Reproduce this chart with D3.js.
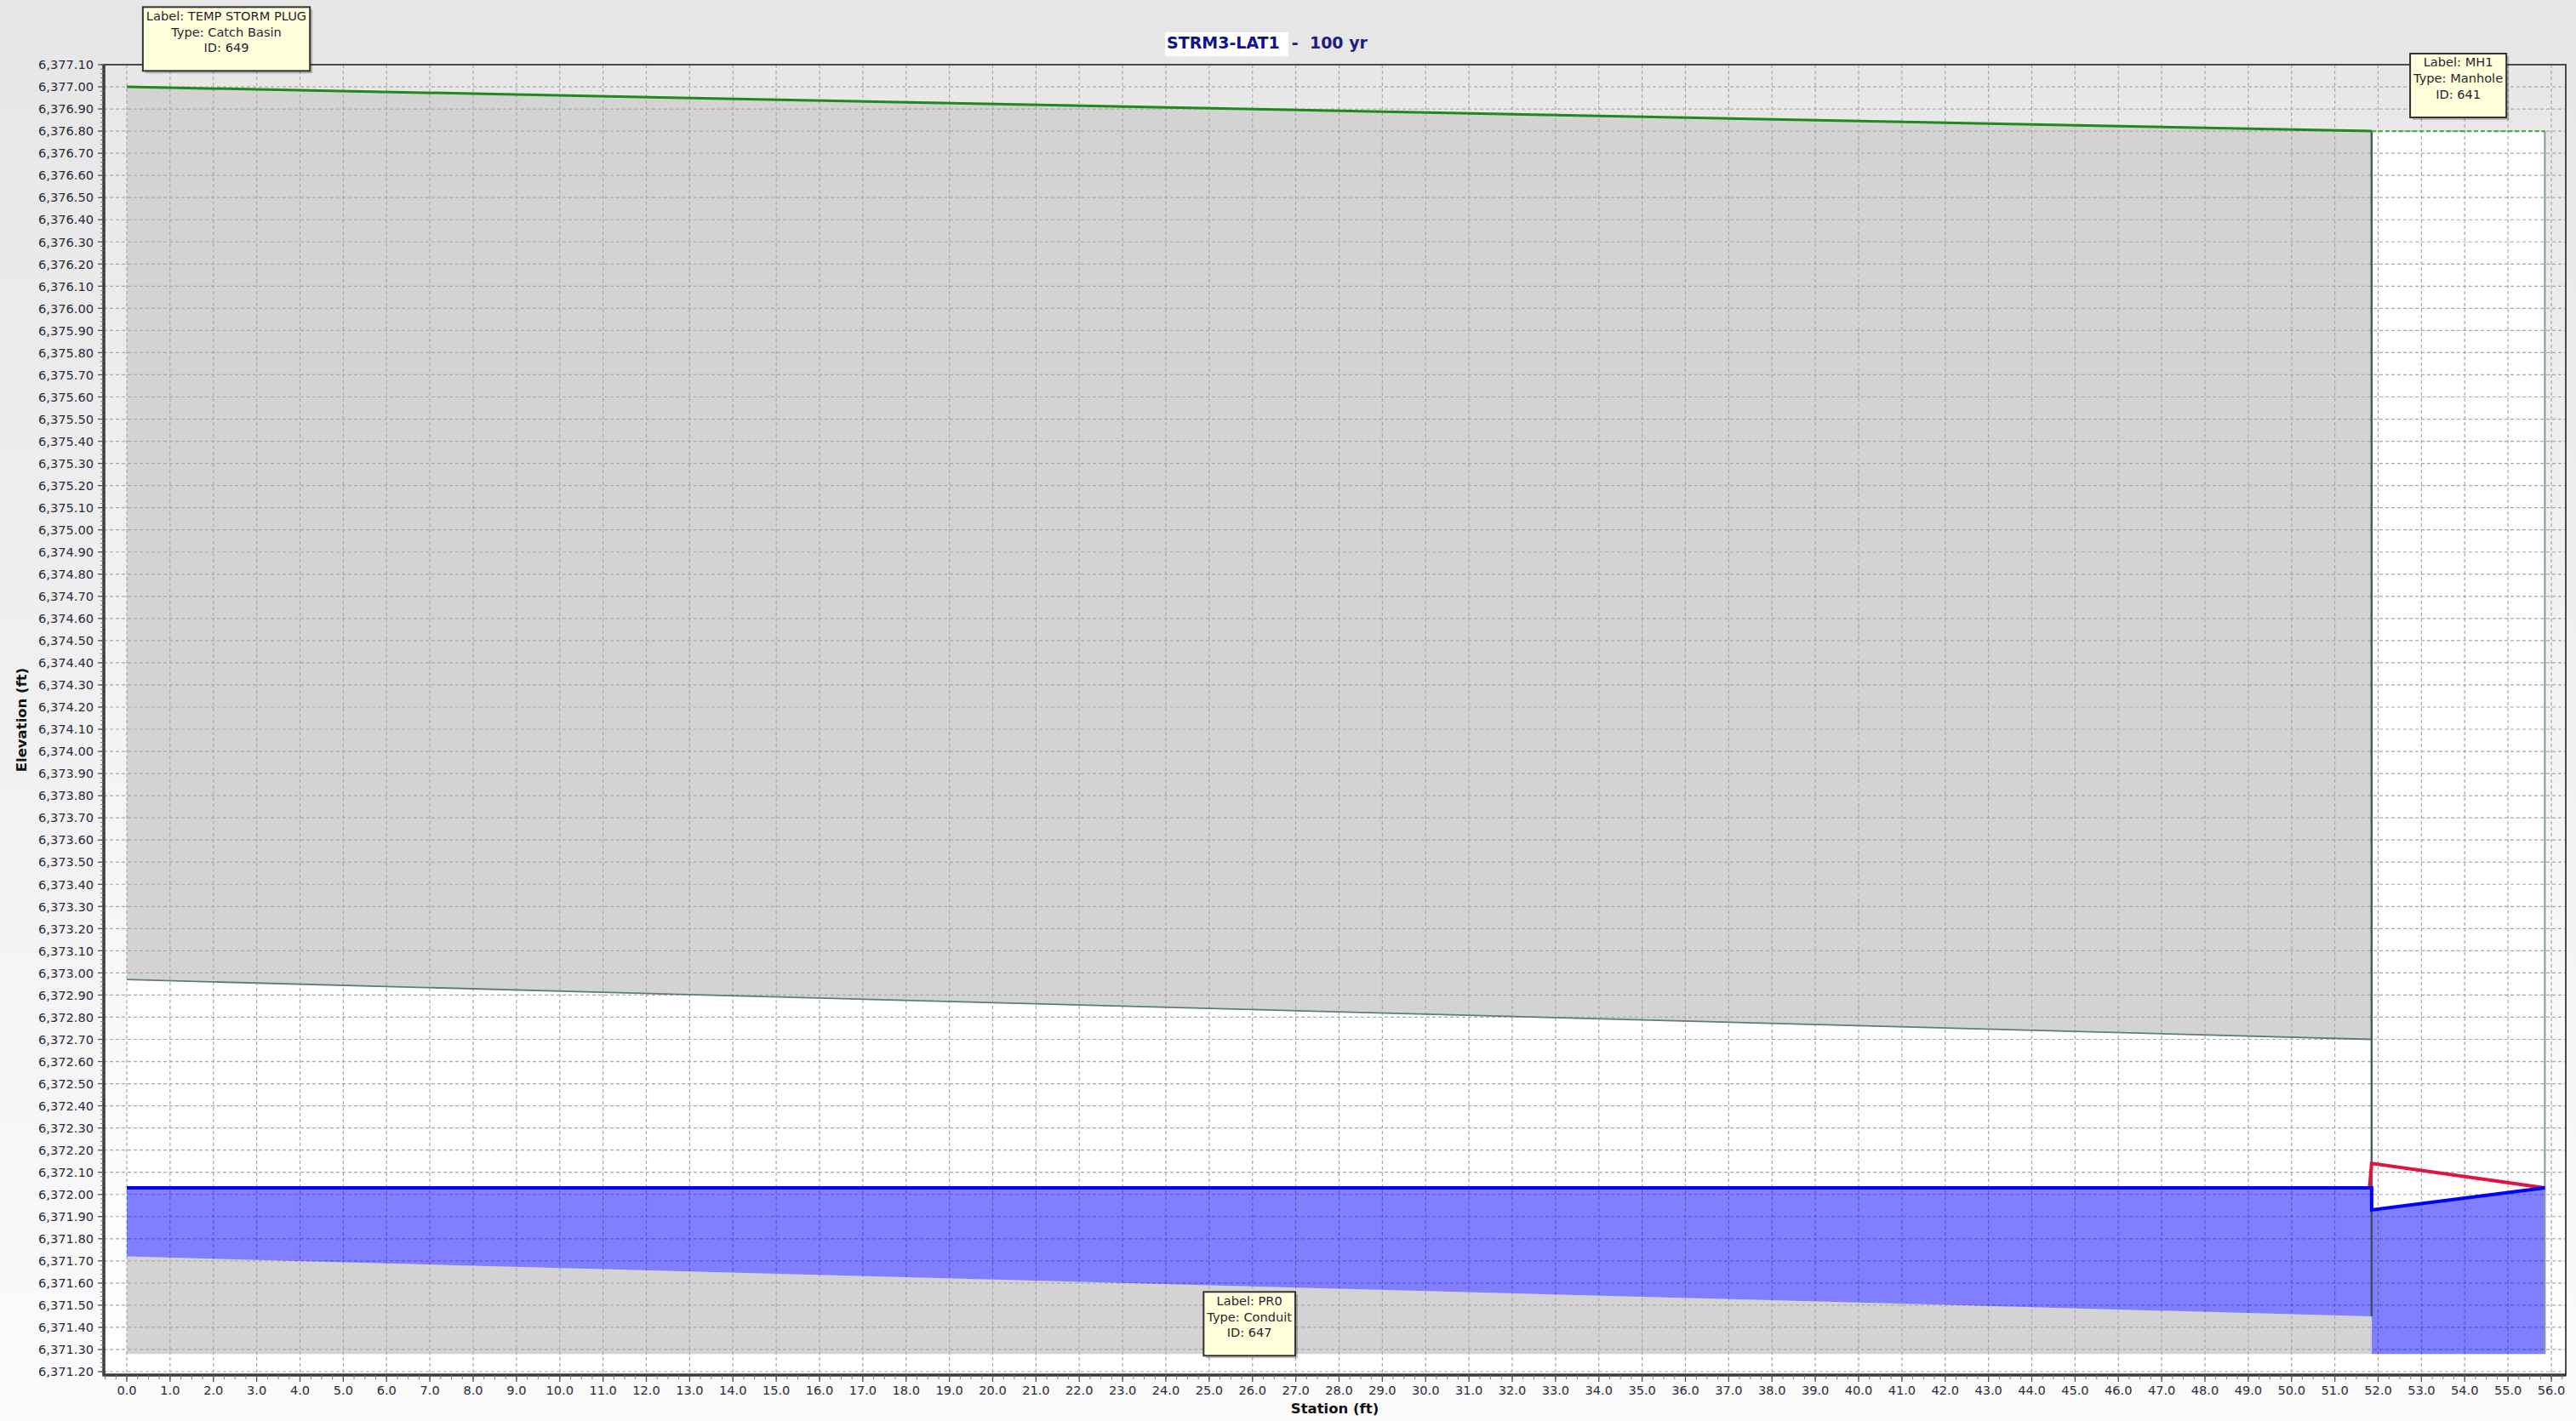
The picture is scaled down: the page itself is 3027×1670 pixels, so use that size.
<!DOCTYPE html>
<html lang="en">
<head>
<meta charset="UTF-8">
<title>STRM3-LAT1 - 100 yr</title>
<script src="https://d3js.org/d3.v7.min.js"></script>
<style>
  html, body { margin: 0; padding: 0; background: #f0f0f0; }
  svg { display: block; }
  text { font-family: "DejaVu Sans", Verdana, sans-serif; }
</style>
</head>
<body>
<svg id="chart"></svg>
<script>
// profile values (station ft, elevation ft)
const titleMain = "STRM3-LAT1";
const titleRest = "- 100 yr";

const groundStations = [0.0, 51.85];
const groundElev = [6377.00, 6376.80];

const rimStations = [51.85, 55.85];
const rimElev = [6376.80, 6376.80];

const pipeStations = [0.0, 51.85];
const crownElev = [6372.97, 6372.70];
const invertElev = [6371.72, 6371.45];

const mhStations = [51.85, 55.85];
const mhFloorElev = [6371.28, 6371.28];

const hglStations = [0.0, 51.85, 51.85, 55.85];
const hglElev = [6372.03, 6372.03, 6371.93, 6372.03];

const eglStations = [51.80, 51.85, 55.85];
const eglElev = [6372.03, 6372.14, 6372.03];

const xTickValues = d3.range(0, 56.5, 1);
const yTickValues = d3.range(0, 60).map(i => +(6371.2 + i * 0.1).toFixed(2));

const labelStations = [2.3, 25.93, 53.85];
const labelTopElev = [6377.36, 6371.56, 6377.15];
const labelLines = [
  ["Label: TEMP STORM PLUG", "Type: Catch Basin", "ID: 649"],
  ["Label: PR0", "Type: Conduit", "ID: 647"],
  ["Label: MH1", "Type: Manhole", "ID: 641"]
];

const width = 3027, height = 1670;
const frame = { left: 122, right: 3015, top: 76, bottom: 1616 };

const svg = d3.select("#chart").attr("width", width).attr("height", height);

const x = d3.scaleLinear().domain([0, 56]).range([149, 2998]);
const y = d3.scaleLinear().domain([6371.2, 6377.1]).range([1612, 76]);

// backgrounds
const defs = svg.append("defs");
const bgGrad = defs.append("linearGradient").attr("id", "bg").attr("x1", 0).attr("y1", 0).attr("x2", 0).attr("y2", 1);
bgGrad.append("stop").attr("offset", "0%").attr("stop-color", "#e6e6e6");
bgGrad.append("stop").attr("offset", "100%").attr("stop-color", "#fbfbfb");
const plotGrad = defs.append("linearGradient").attr("id", "plotbg").attr("x1", 0).attr("y1", 0).attr("x2", 0).attr("y2", 1);
plotGrad.append("stop").attr("offset", "0%").attr("stop-color", "#e7e7e7");
plotGrad.append("stop").attr("offset", "100%").attr("stop-color", "#ffffff");

svg.append("rect").attr("width", width).attr("height", height).attr("fill", "url(#bg)");
svg.append("rect")
  .attr("x", frame.left).attr("y", frame.top)
  .attr("width", frame.right - frame.left).attr("height", frame.bottom - frame.top)
  .attr("fill", "url(#plotbg)");

// gray ground section above / around the pipe
const groundArea = d3.area()
  .x((d, i) => x(groundStations[i]))
  .y0((d, i) => y(mhFloorElev[0]))
  .y1((d, i) => y(groundElev[i]));
svg.append("path").datum(groundStations).attr("d", groundArea).attr("fill", "#d3d3d3");

// pipe barrel
const pipeArea = d3.area()
  .x((d, i) => x(pipeStations[i]))
  .y0((d, i) => y(invertElev[i]))
  .y1((d, i) => y(crownElev[i]));
svg.append("path").datum(pipeStations).attr("d", pipeArea).attr("fill", "#ffffff");

// manhole shaft
const mhArea = d3.area()
  .x((d, i) => x(mhStations[i]))
  .y0((d, i) => y(mhFloorElev[i]))
  .y1((d, i) => y(rimElev[i]));
svg.append("path").datum(mhStations).attr("d", mhArea).attr("fill", "#ffffff");

// grid
const grid = svg.append("g").attr("stroke", "#a8a8a8").attr("stroke-width", 1.2).attr("stroke-dasharray", "4,3");
grid.selectAll("line.v").data(xTickValues).join("line")
  .attr("x1", d => x(d)).attr("x2", d => x(d))
  .attr("y1", frame.top).attr("y2", frame.bottom);
grid.selectAll("line.h").data(yTickValues).join("line")
  .attr("x1", frame.left).attr("x2", frame.right)
  .attr("y1", d => y(d)).attr("y2", d => y(d));

// water
const pipeWater = d3.area()
  .x((d, i) => x(pipeStations[i]))
  .y0((d, i) => y(invertElev[i]))
  .y1((d, i) => y(hglElev[i]));
svg.append("path").datum(pipeStations).attr("d", pipeWater).attr("fill", "rgba(0,0,255,0.5)");
const mhWater = d3.area()
  .x((d, i) => x(mhStations[i]))
  .y0((d, i) => y(mhFloorElev[i]))
  .y1((d, i) => y(hglElev[i + 2]));
svg.append("path").datum(mhStations).attr("d", mhWater).attr("fill", "rgba(0,0,255,0.5)");

// pipe crown
const line = d3.line();
svg.append("path")
  .attr("d", line(pipeStations.map((s, i) => [x(s), y(crownElev[i])])))
  .attr("fill", "none").attr("stroke", "#5e7c7c").attr("stroke-width", 1.8);

// manhole walls
svg.append("line")
  .attr("x1", x(mhStations[0])).attr("x2", x(mhStations[0]))
  .attr("y1", y(rimElev[0])).attr("y2", y(invertElev[1]))
  .attr("stroke", "#2f4f4f").attr("stroke-width", 2.5).attr("opacity", 0.9);
svg.append("line")
  .attr("x1", x(mhStations[1])).attr("x2", x(mhStations[1]))
  .attr("y1", y(rimElev[1])).attr("y2", y(mhFloorElev[1]))
  .attr("stroke", "#869898").attr("stroke-width", 2);

// ground and rim
svg.append("path")
  .attr("d", line(groundStations.map((s, i) => [x(s), y(groundElev[i])])))
  .attr("fill", "none").attr("stroke", "#1d8a1d").attr("stroke-width", 3);
svg.append("path")
  .attr("d", line(rimStations.map((s, i) => [x(s), y(rimElev[i])])))
  .attr("fill", "none").attr("stroke", "#4ea84e").attr("stroke-width", 2.2).attr("stroke-dasharray", "5,3");

// energy grade and hydraulic grade
svg.append("path")
  .attr("d", line(eglStations.map((s, i) => [x(s), y(eglElev[i])])))
  .attr("fill", "none").attr("stroke", "#e0143c").attr("stroke-width", 4).attr("stroke-linejoin", "miter");
svg.append("path")
  .attr("d", line(hglStations.map((s, i) => [x(s), y(hglElev[i])])))
  .attr("fill", "none").attr("stroke", "#0000ff").attr("stroke-width", 4).attr("stroke-linejoin", "miter");

// frame
svg.append("rect")
  .attr("x", frame.left).attr("y", frame.top)
  .attr("width", frame.right - frame.left).attr("height", frame.bottom - frame.top)
  .attr("fill", "none").attr("stroke", "#4a4a4a").attr("stroke-width", 2);
svg.append("line").attr("x1", frame.left).attr("x2", frame.left).attr("y1", frame.top).attr("y2", frame.bottom + 1.5)
  .attr("stroke", "#3a3a3a").attr("stroke-width", 3.5);
svg.append("line").attr("x1", frame.left).attr("x2", frame.right).attr("y1", frame.bottom).attr("y2", frame.bottom)
  .attr("stroke", "#3a3a3a").attr("stroke-width", 3.5);

// y axis ticks
const yAxis = svg.append("g");
const yMinor = d3.range(0, 300).map(i => 6371.2 + i * 0.02).filter(v => y(v) <= frame.bottom && y(v) >= frame.top);
yAxis.selectAll("line.minor").data(yMinor).join("line")
  .attr("x1", frame.left - 4).attr("x2", frame.left)
  .attr("y1", d => y(d)).attr("y2", d => y(d))
  .attr("stroke", "#777").attr("stroke-width", 1);
yAxis.selectAll("line.major").data(yTickValues).join("line")
  .attr("x1", frame.left - 7).attr("x2", frame.left)
  .attr("y1", d => y(d)).attr("y2", d => y(d))
  .attr("stroke", "#555").attr("stroke-width", 1.3);
yAxis.selectAll("text").data(yTickValues).join("text")
  .attr("x", frame.left - 12).attr("y", d => y(d))
  .attr("dy", "0.36em").attr("text-anchor", "end")
  .attr("font-size", "14.6px").attr("fill", "#2a2a3c")
  .text(d => d3.format(",.2f")(d));

// x axis ticks
const xAxis = svg.append("g");
const xMinor = d3.range(-2, 230).map(i => i * 0.25).filter(v => x(v) >= frame.left && x(v) <= frame.right);
xAxis.selectAll("line.minor").data(xMinor).join("line")
  .attr("x1", d => x(d)).attr("x2", d => x(d))
  .attr("y1", frame.bottom).attr("y2", frame.bottom + 5)
  .attr("stroke", "#777").attr("stroke-width", 1);
xAxis.selectAll("line.major").data(xTickValues).join("line")
  .attr("x1", d => x(d)).attr("x2", d => x(d))
  .attr("y1", frame.bottom).attr("y2", frame.bottom + 8)
  .attr("stroke", "#555").attr("stroke-width", 1.3);
xAxis.selectAll("text").data(xTickValues).join("text")
  .attr("x", d => x(d)).attr("y", 1639)
  .attr("text-anchor", "middle")
  .attr("font-size", "14.6px").attr("fill", "#2a2a3c")
  .text(d => d3.format(".1f")(d));

// axis titles
svg.append("text")
  .attr("x", (frame.left + frame.right) / 2).attr("y", 1661)
  .attr("text-anchor", "middle").attr("font-weight", "bold").attr("font-size", "16.5px").attr("fill", "#111")
  .text("Station (ft)");
svg.append("text")
  .attr("transform", `translate(31,${(frame.top + frame.bottom) / 2}) rotate(-90)`)
  .attr("text-anchor", "middle").attr("font-weight", "bold").attr("font-size", "16.5px").attr("fill", "#111")
  .text("Elevation (ft)");

// title
const titleG = svg.append("g");
const t1 = titleG.append("text")
  .attr("x", 1371).attr("y", 57)
  .attr("font-family", "'Liberation Serif', 'Times New Roman', serif")
  .attr("font-weight", "bold").attr("font-size", "19px").attr("fill", "#12128e")
  .text(titleMain);
const bb = t1.node().getBBox();
titleG.insert("rect", "text")
  .attr("x", bb.x - 2).attr("y", 38).attr("width", bb.width + 12).attr("height", 28).attr("fill", "#ffffff");
titleG.append("text")
  .attr("x", bb.x + bb.width + 14).attr("y", 57)
  .attr("font-family", "'Liberation Serif', 'Times New Roman', serif")
  .attr("font-weight", "bold").attr("font-size", "19px").attr("fill", "#1e1e80")
  .attr("xml:space", "preserve")
  .text(titleRest.replace("- ", "-  "));

// element labels
labelStations.forEach((s, k) => {
  const g = svg.append("g");
  const cx = x(s), top = y(labelTopElev[k]);
  const texts = labelLines[k].map((t, j) => g.append("text")
    .attr("x", cx).attr("y", top + 15.5 + j * 18.8)
    .attr("text-anchor", "middle").attr("font-size", "14.6px").attr("fill", "#2b1f2f")
    .text(t));
  const w = d3.max(texts, t => t.node().getComputedTextLength()) + 8;
  const h = 75;
  g.insert("rect", "text")
    .attr("x", cx - w / 2 + 3).attr("y", top + 3).attr("width", w).attr("height", h)
    .attr("fill", "rgba(0,0,0,0.22)");
  g.insert("rect", "text")
    .attr("x", cx - w / 2).attr("y", top).attr("width", w).attr("height", h)
    .attr("fill", "#ffffdc").attr("stroke", "#333").attr("stroke-width", 2);
});
</script>
</body>
</html>
